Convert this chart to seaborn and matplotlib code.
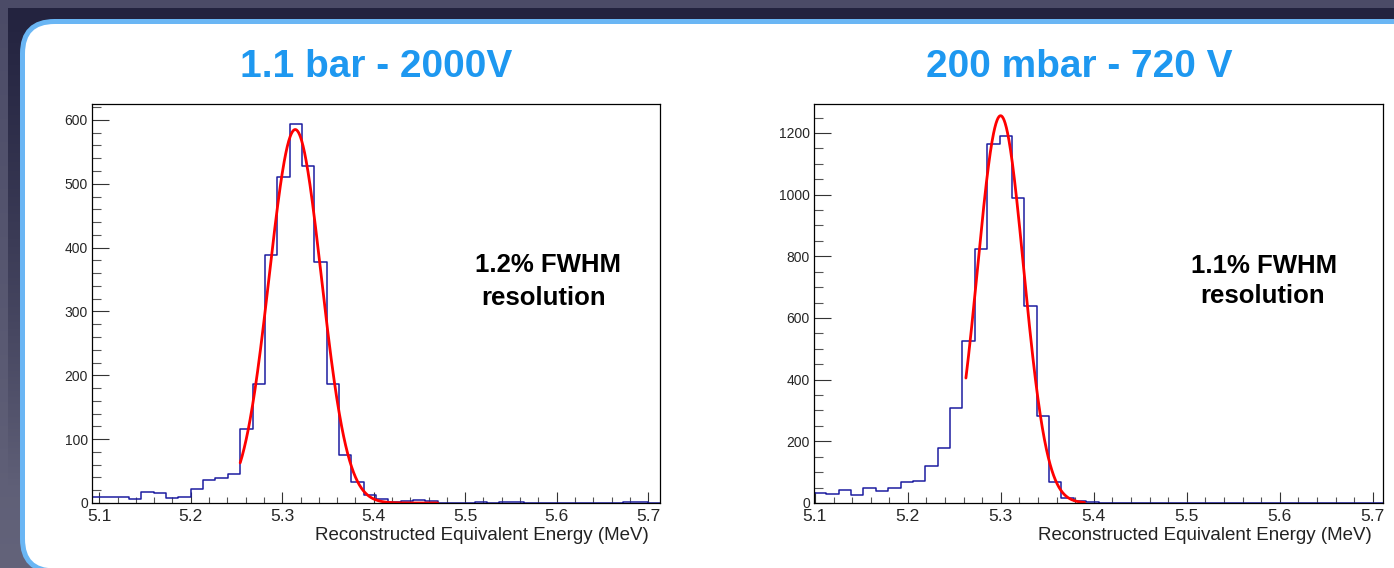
import numpy as np
import pandas as pd
import seaborn as sns
import matplotlib
matplotlib.use("Agg")
import matplotlib.pyplot as plt
from matplotlib.patches import FancyBboxPatch
from matplotlib.ticker import MultipleLocator

# ---------------- data ----------------
titles = ["1.1 bar - 2000V", "200 mbar - 720 V"]
notes = ["1.2% FWHM", "1.1% FWHM"]
note2 = "resolution"
xlabel = "Reconstructed Equivalent Energy (MeV)"

# histogram ranges (MeV) and bin counts
range_left = [5.092, 5.713]
range_right = [5.099, 5.711]
nbins = 46

counts_left = [9, 9, 10, 7, 17, 15, 8, 9, 22, 36, 39, 46, 116, 186, 389, 510,
               594, 528, 378, 187, 75, 33, 12, 6, 1, 3, 4, 3, 0, 0, 0, 1,
               0, 1, 1, 0, 0, 0, 0, 0, 0, 0, 0, 1, 1, 0]
counts_right = [32, 29, 42, 27, 49, 38, 49, 67, 71, 119, 178, 308, 526, 823,
                1165, 1191, 988, 638, 282, 67, 15, 7, 2, 1, 1, 1, 0, 0, 1, 1,
                0, 0, 0, 0, 0, 0, 1, 0, 0, 0, 0, 1, 1, 0, 0, 0]

# gaussian fit parameters: amplitude, mean, sigma, fit range
fit_left = [585, 5.3142, 0.0285, 5.254, 5.470]
fit_right = [1256, 5.2997, 0.0248, 5.2624, 5.390]

ymax_left = 625
ymax_right = 1294
xticks = [5.1, 5.2, 5.3, 5.4, 5.5, 5.6, 5.7]

# ---------------- style ----------------
sns.set_style("white")
plt.rcParams["font.family"] = ["Liberation Sans", "DejaVu Sans"]

W, H = 1394, 568
fig = plt.figure(figsize=(W / 100, H / 100), dpi=100)
fig.patch.set_facecolor("#4b4b67")

# slide background (gradient decoration)
yy = np.arange(H)[:, None]
xx = np.arange(W)[None, :]
top_c = np.array([0x4b, 0x4b, 0x67]) / 255
bot_c = np.array([0x63, 0x63, 0x7a]) / 255
navy = np.array([0x23, 0x23, 0x3f]) / 255
t = (yy / (H - 1))[..., None]
base = top_c * (1 - t) + bot_c * t
base = np.broadcast_to(base, (H, W, 3)).copy()
alpha = np.clip(1 - (yy - 8) / 480.0, 0, 1)[..., None] * ((xx >= 8) & (yy >= 8))[..., None]
img = base * (1 - alpha) + navy * alpha
bg = fig.add_axes([0, 0, 1, 1], zorder=-10)
bg.imshow(img, aspect="auto", extent=[0, W, H, 0], interpolation="bilinear")
bg.axis("off")

fig.patches.append(FancyBboxPatch((0.225, -0.03), 14.5, 5.495,
                                  boxstyle="round,pad=0,rounding_size=0.32",
                                  transform=fig.dpi_scale_trans,
                                  facecolor="white", edgecolor="#6ab6f4",
                                  linewidth=3.6, zorder=-2))

HIST_COLOR = "#1c1ca0"
FIT_COLOR = "#ff0000"
TITLE_COLOR = "#1e98f0"


def draw(ax, counts, xr, ymax, fit, ymaj, ymin_):
    edges = np.linspace(xr[0], xr[1], nbins + 1)
    centers = 0.5 * (edges[:-1] + edges[1:])
    df = pd.DataFrame({"E": centers, "n": counts})
    sns.histplot(data=df, x="E", weights="n", bins=nbins, binrange=(xr[0], xr[1]),
                 element="step", fill=False, color=HIST_COLOR, linewidth=1.1, ax=ax)
    amp, mu, sig, lo, hi = fit
    xf = np.linspace(lo, hi, 400)
    fdf = pd.DataFrame({"E": xf, "f": amp * np.exp(-0.5 * ((xf - mu) / sig) ** 2)})
    sns.lineplot(data=fdf, x="E", y="f", color=FIT_COLOR, linewidth=2.0, ax=ax)
    ax.set_xlim(xr[0], xr[1])
    ax.set_ylim(0, ymax)
    ax.set_xlabel("")
    ax.set_ylabel("")
    ax.set_xticks(xticks)
    ax.set_xticklabels([f"{t:.1f}" for t in xticks])
    ax.xaxis.set_minor_locator(MultipleLocator(0.02))
    ax.yaxis.set_major_locator(MultipleLocator(ymaj))
    ax.yaxis.set_minor_locator(MultipleLocator(ymin_))
    ax.tick_params(axis="y", which="major", direction="in", length=12, width=0.8,
                   labelsize=10, pad=3, left=True, right=False, color="#333333")
    ax.tick_params(axis="y", which="minor", direction="in", length=6.5, width=0.8,
                   left=True, right=False, color="#555555")
    ax.tick_params(axis="x", which="major", direction="in", length=8, width=0.8,
                   labelsize=12.5, pad=4, bottom=True, top=False, color="#333333")
    ax.tick_params(axis="x", which="minor", direction="in", length=4.3, width=0.8,
                   bottom=True, top=False, color="#555555")
    for s in ax.spines.values():
        s.set_visible(True)
        s.set_color("black")
        s.set_linewidth(0.9)
    ax.set_facecolor("white")


ax1 = fig.add_axes([92 / W, 1 - 503 / H, 568 / W, 399 / H])
ax2 = fig.add_axes([814 / W, 1 - 503 / H, 569 / W, 399 / H])
draw(ax1, counts_left, range_left, ymax_left, fit_left, 100, 20)
draw(ax2, counts_right, range_right, ymax_right, fit_right, 200, 50)

for ax in (ax1, ax2):
    ax.text(1 - 11 / 568, -33 / 399, xlabel, transform=ax.transAxes,
            ha="right", va="center", fontsize=13.5, color="#222222")

# titles
fig.text(376 / W, 1 - 67 / H, titles[0], ha="center", va="center",
         fontsize=28, fontweight="bold", color=TITLE_COLOR)
fig.text(1079 / W, 1 - 67 / H, titles[1], ha="center", va="center",
         fontsize=28, fontweight="bold", color=TITLE_COLOR)

# annotations
NS = 18.5
fig.text(548 / W, 1 - 265 / H, notes[0], ha="center", va="center",
         fontsize=NS, fontweight="bold", color="black")
fig.text(544 / W, 1 - 298 / H, note2, ha="center", va="center",
         fontsize=NS, fontweight="bold", color="black")
fig.text(1264 / W, 1 - 266 / H, notes[1], ha="center", va="center",
         fontsize=NS, fontweight="bold", color="black")
fig.text(1263 / W, 1 - 296 / H, note2, ha="center", va="center",
         fontsize=NS, fontweight="bold", color="black")

fig.savefig("out.png", dpi=100, facecolor=fig.get_facecolor())
